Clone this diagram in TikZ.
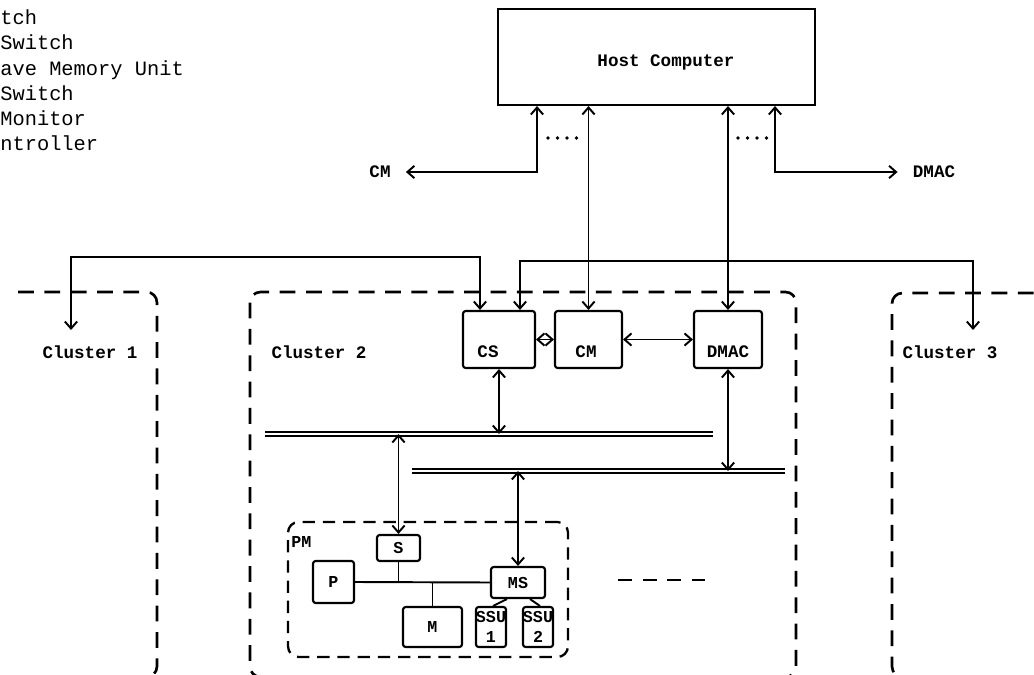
\documentclass[tikz,border=0pt]{standalone}
\usepackage{fontspec}
\setmonofont{Liberation Mono}
\usetikzlibrary{calc, arrows.meta}

\begin{document}
\begin{tikzpicture}[
    x=0.02cm, y=-0.02cm,
    txt/.style={font=\ttfamily\bfseries\fontsize{10}{12}\selectfont, inner sep=1pt},
    small/.style={font=\ttfamily\bfseries\fontsize{9.5}{11}\selectfont, inner sep=0pt},
    box/.style={draw, line width=1.2pt, rounded corners=1.5pt, inner sep=0pt},
    link/.style={line width=1.1pt},
    both/.style={link, {Straight Barb[length=4pt,width=7pt]}-{Straight Barb[length=4pt,width=7pt]}},
    cluster/.style={line width=1.5pt, dash pattern=on 9pt off 6pt, rounded corners=6pt},
    pmline/.style={line width=1.3pt, dash pattern=on 7pt off 4.5pt, rounded corners=6pt},
    bus/.style={double, double distance=1.6pt, line width=0.7pt},
  ]
  \useasboundingbox (0,0) rectangle (1034,675);

  \node[anchor=base west, align=left, inner sep=0pt,
    font=\ttfamily\fontsize{11.6}{14.4}\selectfont] (legend) at (0,151)
    {tch\\Switch\\ave Memory Unit\\Switch\\Monitor\\ntroller};

  \node[box, rounded corners=0pt, minimum width=6.34cm, minimum height=1.92cm,
    label={[txt, xshift=0.19cm, yshift=-0.1cm]center:Host Computer}] (host) at (656.5,57) {};
  \node[txt, inner xsep=0.3cm] (cmx) at (380,172) {CM};
  \node[txt, inner xsep=0.3cm] (dmacx) at (934,172) {DMAC};

  % clusters
  \draw[cluster] (18,292) -| (157,677) -- (100,677);
  \draw[cluster] (250,292) rectangle (796,677);
  \draw[cluster] (1060,293) -| (892,677) -- (950,677);
  \node[txt] (lab1) at (90,352) {Cluster 1};
  \node[txt] (lab2) at (319,352) {Cluster 2};
  \node[txt] (lab3) at (950,352) {Cluster 3};
  \coordinate (c1in) at (71,330);
  \coordinate (c3in) at (973,330);

  \node[box, minimum width=1.44cm, minimum height=1.14cm,
    label={[txt, xshift=-0.22cm, yshift=-0.25cm]center:CS}] (cs) at (499,339.5) {};
  \node[box, minimum width=1.34cm, minimum height=1.14cm,
    label={[txt, xshift=-0.05cm, yshift=-0.25cm]center:CM}] (cm) at (588.5,339.5) {};
  \node[box, minimum width=1.36cm, minimum height=1.14cm,
    label={[txt, yshift=-0.25cm]center:DMAC}] (dmac) at (728,339.5) {};

  \coordinate (b1w) at (265,434);
  \coordinate (b1e) at (713,434);
  \coordinate (b2w) at (412,471);
  \coordinate (b2e) at (785,471);
  \draw[bus] (b1w) -- (b1e);
  \draw[bus] (b2w) -- (b2e);

  % processing module
  \node[draw, pmline, minimum width=5.6cm, minimum height=2.7cm] (pm) at (428,589.5) {};
  \node[small, anchor=north west] (pmlab) at (291,536) {PM};
  \node[box, small, minimum width=0.86cm, minimum height=0.52cm] (s) at (398.5,548) {S};
  \node[box, small, minimum width=0.82cm, minimum height=0.84cm] (p) at (333.5,582) {P};
  \node[box, small, minimum width=1.18cm, minimum height=0.8cm] (m) at (432.5,627) {M};
  \node[box, small, minimum width=1.08cm, minimum height=0.62cm] (ms) at (518,582.5) {MS};
  \node[box, small, align=center, minimum width=0.56cm, minimum height=0.8cm] (ssu1) at (491,627) {SSU\\1};
  \node[box, small, align=center, minimum width=0.56cm, minimum height=0.8cm] (ssu2) at (538,627) {SSU\\2};

  \draw[link] (p.east) -- (ms.west);
  \draw[link] (s.south) -- (s.south |- p.east);
  \draw[link] (m.north) -- (m.north |- p.east);
  \draw[link] ($(ms.south)+(-11,0)$) -- ($(ssu1.north)+(2,0)$);
  \draw[link] ($(ms.south)+(12,0)$) -- ($(ssu2.north)+(2,0)$);
  \draw[pmline, dash pattern=on 8pt off 6pt] (618,580) -- (705,580);

  \draw[both] (cs.east) -- (cm.west);
  \draw[both] (cm.east) -- (dmac.west);
  \draw[both] (cs.south) -- (cs.south |- b1w);
  \draw[both] (dmac.south) -- (dmac.south |- b2w);
  \draw[both] (s.north |- b1w) -- (s.north);
  \draw[both] (ms.north |- b2w) -- (ms.north);
  \draw[both] (host.south -| cm.north) -- (cm.north);
  \draw[both] (host.south -| dmac.north) -- (dmac.north);
  \draw[both] (cmx.east) -| ($(host.south)+(-119.5,0)$);
  \draw[both] ($(host.south)+(118.5,0)$) |- (dmacx.west);
  \foreach \x in {548,738}
    \foreach \i in {0,...,3}
      \fill (\x+\i*9.5,138) circle (1.9);

  \draw[both] ($(cs.north)+(-19,0)$) -- ++(0,-53) -| (c1in);
  \draw[both] ($(cs.north)+(21,0)$) -- ++(0,-49) -| (c3in);
\end{tikzpicture}
\end{document}
